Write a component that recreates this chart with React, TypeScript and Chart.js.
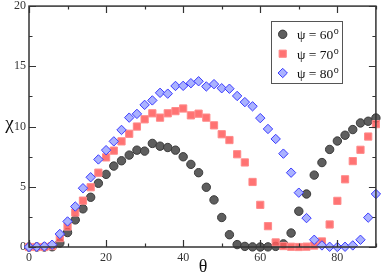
import React, { useEffect, useRef } from "react";
import { Chart, registerables } from "chart.js";

Chart.register(...registerables);

const thetaDeg = [0, 2, 4, 6, 8, 10, 12, 14, 16, 18, 20, 22, 24, 26, 28, 30, 32, 34, 36, 38, 40, 42, 44, 46, 48, 50, 52, 54, 56, 58, 60, 62, 64, 66, 68, 70, 72, 74, 76, 78, 80, 82, 84, 86, 88, 90];
const psi60 = [0, 0, 0, 0.02, 0.33, 1.2, 2.25, 3.17, 4.13, 5.29, 6.03, 6.72, 7.16, 7.63, 8.04, 7.96, 8.6, 8.37, 8.26, 8.04, 7.49, 6.86, 6.17, 4.96, 3.91, 2.45, 1.02, 0.2, 0.05, 0.01, 0, 0.01, 0.05, 0.26, 1.16, 2.97, 4.4, 5.97, 7.01, 8.1, 8.8, 9.28, 9.75, 10.3, 10.44, 10.71];
const psi70 = [0, 0, 0, 0.08, 0.74, 1.7, 2.86, 3.85, 4.96, 6.17, 7.44, 8.0, 8.77, 9.4, 10.0, 10.6, 11.1, 10.74, 11.1, 11.28, 11.5, 10.93, 11.07, 10.74, 10.1, 9.36, 8.88, 7.7, 7.02, 5.4, 3.5, 1.73, 0.38, 0.08, 0.02, 0, 0.03, 0.12, 0.46, 1.87, 3.83, 5.62, 7.13, 8.07, 9.17, 10.2];
const psi80 = [0, 0.02, 0.05, 0.19, 1.08, 2.12, 3.36, 4.88, 5.79, 7.27, 8.04, 8.77, 9.72, 10.74, 11.05, 11.8, 12.17, 12.8, 12.73, 13.37, 13.38, 13.6, 13.76, 13.33, 13.52, 13.18, 13.14, 12.54, 12.03, 11.68, 10.7, 9.8, 8.97, 7.75, 6.17, 4.51, 2.4, 0.6, 0.13, 0.02, 0, 0.02, 0.13, 0.6, 2.44, 4.4];

const xMajorTicks = [0, 20, 40, 60, 80];
const xMinorTicks = [10, 30, 50, 70, 90];
const yMajorTicks = [0, 5, 10, 15, 20];
const yMinorTicks = [2.5, 7.5, 12.5, 17.5];

const seriesNames = ["ψ = 60", "ψ = 70", "ψ = 80"];
const seriesSup = "o";

const SERIF = "'Liberation Serif', 'DejaVu Serif', serif";

const styles = [
  { pointStyle: "circle", radius: 4.2, bg: "#5e5e5e", border: "#3a3a3a" },
  { pointStyle: "rect", radius: 5.1, bg: "rgba(255,90,90,0.85)", border: "#ff8a8a" },
  { pointStyle: "rectRot", radius: 4.7, bg: "#aab2ff", border: "#3a3aff" },
];

function drawMarker(ctx: CanvasRenderingContext2D, kind: string, x: number, y: number, r: number, bg: string, border: string) {
  ctx.save();
  ctx.beginPath();
  if (kind === "circle") {
    ctx.arc(x, y, r, 0, Math.PI * 2);
  } else if (kind === "rect") {
    const s = r * Math.SQRT1_2;
    ctx.rect(x - s, y - s, 2 * s, 2 * s);
  } else {
    ctx.moveTo(x, y - r);
    ctx.lineTo(x + r, y);
    ctx.lineTo(x, y + r);
    ctx.lineTo(x - r, y);
    ctx.closePath();
  }
  ctx.fillStyle = bg;
  ctx.fill();
  ctx.lineWidth = 1;
  ctx.strokeStyle = border;
  ctx.stroke();
  ctx.restore();
}

const framePlugin = {
  id: "frameTicks",
  afterDatasetsDraw(chart: any) {
    const { ctx, chartArea } = chart;
    const { left, right, top, bottom } = chartArea;
    const xs = chart.scales.x;
    const ys = chart.scales.y;
    ctx.save();
    ctx.strokeStyle = "#333";
    ctx.lineWidth = 1.5;
    ctx.strokeRect(left, top, right - left, bottom - top);
    ctx.lineWidth = 1.2;
    const major = 7;
    const minor = 3.5;
    ctx.beginPath();
    const xt = (v: number, len: number) => {
      const px = Math.round(xs.getPixelForValue(v)) + 0.5;
      ctx.moveTo(px, bottom);
      ctx.lineTo(px, bottom - len);
      ctx.moveTo(px, top);
      ctx.lineTo(px, top + len);
    };
    const yt = (v: number, len: number) => {
      const py = Math.round(ys.getPixelForValue(v)) + 0.5;
      ctx.moveTo(left, py);
      ctx.lineTo(left + len, py);
      ctx.moveTo(right, py);
      ctx.lineTo(right - len, py);
    };
    xMajorTicks.forEach((v) => xt(v, major));
    xMinorTicks.forEach((v) => xt(v, minor));
    yMajorTicks.forEach((v) => yt(v, major));
    yMinorTicks.forEach((v) => yt(v, minor));
    ctx.stroke();

    // axis titles
    ctx.fillStyle = "#111";
    ctx.font = `19px ${SERIF}`;
    ctx.textAlign = "center";
    ctx.textBaseline = "alphabetic";
    ctx.fillText("χ", 9.5, 129);
    ctx.font = `18px ${SERIF}`;
    ctx.fillText("θ", (left + right) / 2 + 0.5, 272);

    // legend
    const bx = 271.5, by = 21.5, bw = 71, bh = 62;
    ctx.fillStyle = "#fff";
    ctx.fillRect(bx, by, bw, bh);
    ctx.strokeStyle = "#555";
    ctx.lineWidth = 1;
    ctx.strokeRect(bx, by, bw, bh);
    const rows = [34.3, 53.7, 73];
    rows.forEach((ry, i) => {
      const st = styles[i];
      drawMarker(ctx, st.pointStyle, 282.7, ry, st.radius, st.bg, st.border);
      ctx.fillStyle = "#111";
      ctx.textAlign = "left";
      ctx.font = `13.5px ${SERIF}`;
      ctx.fillText(seriesNames[i], 297, ry + 5);
      const w = ctx.measureText(seriesNames[i]).width;
      ctx.font = `10px ${SERIF}`;
      ctx.fillText(seriesSup, 297 + w + 0.5, ry);
    });
    ctx.restore();
  },
};

export default function App() {
  const canvasRef = useRef<HTMLCanvasElement | null>(null);
  useEffect(() => {
    const canvas = canvasRef.current;
    if (!canvas) return;
    const seriesValues = [psi60, psi70, psi80];
    const datasets = seriesValues.map((vals, i) => ({
      label: seriesNames[i],
      data: thetaDeg.map((t, j) => ({ x: t, y: vals[j] })),
      pointStyle: styles[i].pointStyle as any,
      pointRadius: styles[i].radius,
      pointBackgroundColor: styles[i].bg,
      pointBorderColor: styles[i].border,
      pointBorderWidth: 1,
      showLine: false,
      order: 2 - i,
      clip: false as any,
    }));
    const tickFont = { family: SERIF, size: 12 };
    const chart = new Chart(canvas, {
      type: "scatter",
      data: { datasets },
      options: {
        responsive: false,
        animation: false,
        devicePixelRatio: 1,
        layout: { padding: { top: 5, right: 6, left: 0, bottom: 0 } },
        plugins: { legend: { display: false }, tooltip: { enabled: false } },
        scales: {
          x: {
            type: "linear",
            min: 0,
            max: 90,
            grid: { display: false, drawTicks: false },
            border: { display: false },
            ticks: { font: tickFont, color: "#333", padding: 4, maxRotation: 0, autoSkip: false, includeBounds: false },
            afterBuildTicks: (s: any) => {
              s.ticks = xMajorTicks.map((v) => ({ value: v }));
            },
            afterFit: (s: any) => {
              s.height = 30;
              s.paddingLeft = 0;
              s.paddingRight = 0;
            },
          },
          y: {
            type: "linear",
            min: 0,
            max: 20,
            grid: { display: false, drawTicks: false },
            border: { display: false },
            ticks: { font: tickFont, color: "#333", padding: 3, autoSkip: false, includeBounds: false },
            afterBuildTicks: (s: any) => {
              s.ticks = yMajorTicks.map((v) => ({ value: v }));
            },
            afterFit: (s: any) => {
              s.width = 29;
              s.paddingTop = 0;
              s.paddingBottom = 0;
            },
          },
        },
      },
      plugins: [framePlugin],
    });
    return () => chart.destroy();
  }, []);
  return (
    <div style={{ position: "absolute", left: 0, top: 0, width: 382, height: 277, background: "#fff" }}>
      <canvas ref={canvasRef} width={382} height={277} style={{ display: "block" }} />
    </div>
  );
}
